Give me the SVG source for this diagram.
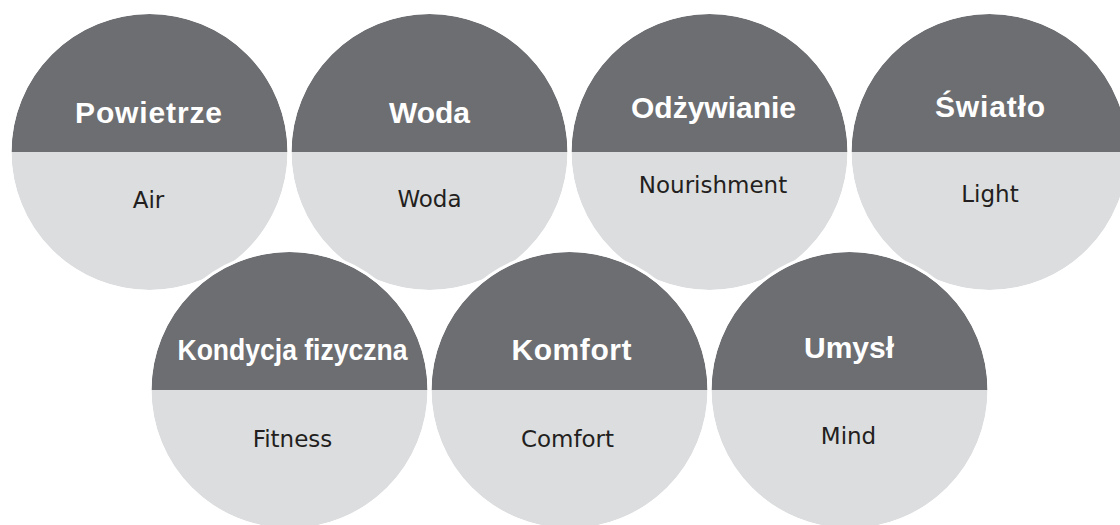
<svg xmlns="http://www.w3.org/2000/svg" width="1120" height="525" viewBox="0 0 1120 525">
<style>
.lo{fill:#dcdddf}
.hi{fill:#6d6e71}
.rim{fill:none;stroke:#ffffff;stroke-width:3}
.t{font-family:"Liberation Sans",Arial,sans-serif;font-weight:bold;font-size:30px;fill:#ffffff;text-anchor:middle}
.b{font-family:"DejaVu Sans","Liberation Sans",sans-serif;font-size:23px;fill:#231f20;text-anchor:middle}
</style>
<rect width="1120" height="525" fill="#ffffff"/>
<g id="connectors"></g>
<g id="node-powietrze">
<circle class="lo" cx="149.5" cy="152" r="138"/>
<path class="hi" d="M11.5,152 A138,138 0 0 1 287.5,152 Z"/>
<circle class="rim" cx="149.5" cy="152" r="139.5"/>
<text class="t" x="148.5" y="123" textLength="147">Powietrze</text>
<text class="b" x="148.5" y="208">Air</text>
</g>
<g id="node-woda">
<circle class="lo" cx="429.5" cy="152" r="138"/>
<path class="hi" d="M291.5,152 A138,138 0 0 1 567.5,152 Z"/>
<circle class="rim" cx="429.5" cy="152" r="139.5"/>
<text class="t" x="429.5" y="123">Woda</text>
<text class="b" x="429.5" y="207">Woda</text>
</g>
<g id="node-odzywianie">
<circle class="lo" cx="709.5" cy="152" r="138"/>
<path class="hi" d="M571.5,152 A138,138 0 0 1 847.5,152 Z"/>
<circle class="rim" cx="709.5" cy="152" r="139.5"/>
<text class="t" x="713.5" y="118">Odżywianie</text>
<text class="b" x="713" y="193">Nourishment</text>
</g>
<g id="node-swiatlo">
<circle class="lo" cx="989.5" cy="152" r="138"/>
<path class="hi" d="M851.5,152 A138,138 0 0 1 1127.5,152 Z"/>
<circle class="rim" cx="989.5" cy="152" r="139.5"/>
<text class="t" x="990" y="117" textLength="110">Światło</text>
<text class="b" x="990" y="202">Light</text>
</g>
<g id="node-kondycja">
<circle class="lo" cx="289.5" cy="390" r="138"/>
<path class="hi" d="M151.5,390 A138,138 0 0 1 427.5,390 Z"/>
<circle class="rim" cx="289.5" cy="390" r="139.5"/>
<text class="t" x="292.5" y="360" textLength="230" lengthAdjust="spacingAndGlyphs">Kondycja fizyczna</text>
<text class="b" x="292.5" y="446.5">Fitness</text>
</g>
<g id="node-komfort">
<circle class="lo" cx="569.5" cy="390" r="138"/>
<path class="hi" d="M431.5,390 A138,138 0 0 1 707.5,390 Z"/>
<circle class="rim" cx="569.5" cy="390" r="139.5"/>
<text class="t" x="571.5" y="360" textLength="120">Komfort</text>
<text class="b" x="567.5" y="446.5">Comfort</text>
</g>
<g id="node-umysl">
<circle class="lo" cx="849.5" cy="390" r="138"/>
<path class="hi" d="M711.5,390 A138,138 0 0 1 987.5,390 Z"/>
<circle class="rim" cx="849.5" cy="390" r="139.5"/>
<text class="t" x="849" y="358">Umysł</text>
<text class="b" x="848.5" y="443.5">Mind</text>
</g>
</svg>
